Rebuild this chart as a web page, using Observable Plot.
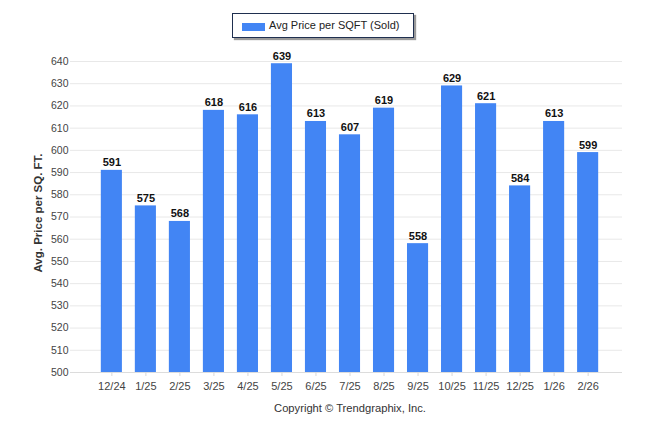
<!DOCTYPE html>
<html>
<head>
<meta charset="utf-8">
<script src="https://cdn.jsdelivr.net/npm/d3@7"></script>
<script src="https://cdn.jsdelivr.net/npm/@observablehq/plot@0.6"></script>
<style>
  body { margin: 0; background: #fff; font-family: "Liberation Sans", Arial, sans-serif; }
  #wrap { position: relative; width: 646px; height: 434px; overflow: hidden; }
  #wrap svg { position: absolute; left: 0; top: 0; }
  #legend { position: absolute; left: 232px; top: 13px; width: 180px; height: 23px; border: 1px solid #1f2f4f; box-shadow: 2px 2px 1px #9a9a9a; background: #fff; font-size: 11px; color: #222; }
  #legend .sw { position: absolute; left: 9px; top: 9px; width: 23px; height: 8px; background: #4285F4; }
  #legend .lt { position: absolute; left: 36px; top: 5px; white-space: nowrap; }
  #ytitle { position: absolute; left: 38px; top: 213px; transform: translate(-50%, -50%) rotate(-90deg); font-size: 11.5px; font-weight: bold; color: #333; white-space: nowrap; }
  #caption { position: absolute; left: 350px; top: 408px; transform: translate(-50%, -50%); font-size: 11.2px; color: #333; white-space: nowrap; }
</style>
</head>
<body>
<div id="wrap">
  <div id="legend"><div class="sw"></div><div class="lt">Avg Price per SQFT (Sold)</div></div>
  <div id="ytitle">Avg. Price per SQ. FT.</div>
  <div id="caption">Copyright © Trendgraphix, Inc.</div>
</div>
<script>
const months = ["12/24","1/25","2/25","3/25","4/25","5/25","6/25","7/25","8/25","9/25","10/25","11/25","12/25","1/26","2/26"];
const values = [591, 575, 568, 618, 616, 639, 613, 607, 619, 558, 629, 621, 584, 613, 599];
const yTicks = [500,510,520,530,540,550,560,570,580,590,600,610,620,630,640];

const data = months.map((m, i) => ({month: m, value: values[i]}));
const yMin = yTicks[0];

const chart = Plot.plot({
  width: 646,
  height: 434,
  marginTop: 61,
  marginBottom: 62,
  marginLeft: 77,
  marginRight: 24,
  style: {fontFamily: "'Liberation Sans', Arial, sans-serif", background: "transparent"},
  x: {domain: months, paddingInner: 0.38, paddingOuter: 0.7, round: false, label: null},
  y: {domain: [yMin, yTicks[yTicks.length - 1]], label: null},
  marks: [
    Plot.ruleY(yTicks, {stroke: "#e8e8e8", strokeWidth: 1, insetLeft: -7}),
    Plot.barY(data, {x: "month", y1: d => yMin, y2: "value", fill: "#4285F4"}),
    Plot.ruleY([yMin], {stroke: "#dcdcdc", insetLeft: -7}),
    Plot.text(data, {x: "month", y: "value", text: d => String(d.value), dy: -4, lineAnchor: "bottom", fontWeight: "bold", fontSize: 11, fill: "#111"}),
    Plot.axisY({ticks: yTicks, tickSize: 0, tickPadding: 9, fontSize: 10.5, fill: "#444", label: null}),
    Plot.axisX({tickSize: 4, stroke: "#d8d8d8", tickPadding: 6, fontSize: 11, fill: "#444", label: null})
  ]
});
document.getElementById("wrap").prepend(chart);
</script>
</body>
</html>
